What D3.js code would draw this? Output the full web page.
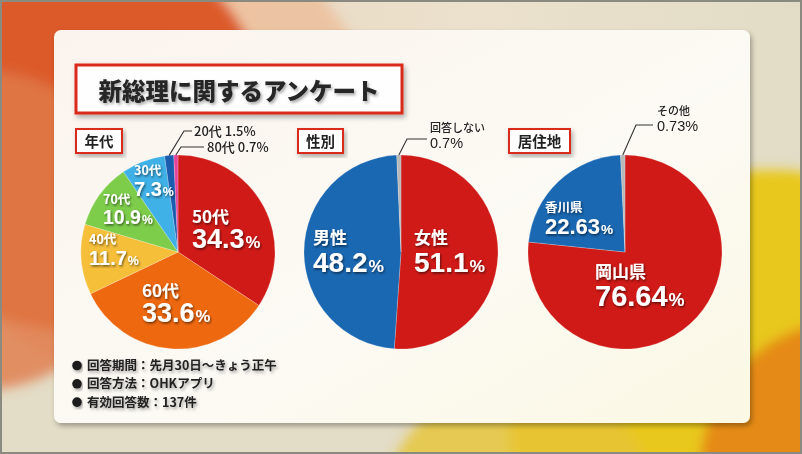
<!DOCTYPE html>
<html><head><meta charset="utf-8">
<script src="https://cdn.jsdelivr.net/npm/d3@7"></script>
<style>html,body{margin:0;padding:0;background:#fff;}svg{display:block;}</style>
</head><body>
<svg id="c" width="802" height="454"></svg>
<script>
// ---- data ----
const title = "新総理に関するアンケート";
const ageLabels = ["50代","60代","40代","70代","30代","20代","80代"];
const ageValues = [34.3, 33.6, 11.7, 10.9, 7.3, 1.5, 0.7];
const genderLabels = ["女性","男性","回答しない"];
const genderValues = [51.1, 48.2, 0.7];
const regionLabels = ["岡山県","香川県","その他"];
const regionValues = [76.64, 22.63, 0.73];
const panelTitles = ["年代","性別","居住地"];
const notes = ["回答期間：先月30日～きょう正午","回答方法：OHKアプリ","有効回答数：137件"];

const JP = "'Noto Sans CJK JP','Noto Sans',sans-serif";
const NUM = "'Liberation Sans','Noto Sans CJK JP',sans-serif";

const svg = d3.select("#c");
const defs = svg.append("defs");

// filters
const f1 = defs.append("filter").attr("id","tsh").attr("x","-20%").attr("y","-20%").attr("width","140%").attr("height","140%");
f1.append("feDropShadow").attr("dx",1).attr("dy",1.5).attr("stdDeviation",1.2).attr("flood-color","#000").attr("flood-opacity",0.55);
const f2 = defs.append("filter").attr("id","bsh").attr("x","-10%").attr("y","-10%").attr("width","120%").attr("height","130%");
f2.append("feDropShadow").attr("dx",2).attr("dy",3).attr("stdDeviation",2.5).attr("flood-color","#000").attr("flood-opacity",0.3);
const f3 = defs.append("filter").attr("id","dsh").attr("x","-10%").attr("y","-20%").attr("width","120%").attr("height","150%");
f3.append("feDropShadow").attr("dx",1.5).attr("dy",2).attr("stdDeviation",1.5).attr("flood-color","#000").attr("flood-opacity",0.35);
const blur = defs.append("filter").attr("id","blur").attr("x","-50%").attr("y","-50%").attr("width","200%").attr("height","200%");
blur.append("feGaussianBlur").attr("stdDeviation",6);

// card gradient
const cg = defs.append("linearGradient").attr("id","cardg").attr("x1",0).attr("y1",0).attr("x2",1).attr("y2",1);
cg.append("stop").attr("offset","0%").attr("stop-color","#fbf3ee");
cg.append("stop").attr("offset","55%").attr("stop-color","#fcfaf4");
cg.append("stop").attr("offset","100%").attr("stop-color","#fbf8e4");

// ---- background ----
svg.append("rect").attr("width",802).attr("height",454).attr("fill","#e3dcc6");
const bgTop = defs.append("linearGradient").attr("id","bgt").attr("x1",0).attr("y1",0).attr("x2",1).attr("y2",0);
bgTop.append("stop").attr("offset","0%").attr("stop-color","#e9d3c0");
bgTop.append("stop").attr("offset","60%").attr("stop-color","#ebe1cc");
bgTop.append("stop").attr("offset","100%").attr("stop-color","#e2dcc6");
svg.append("rect").attr("width",802).attr("height",260).attr("fill","url(#bgt)");
const bgG = svg.append("g").attr("filter","url(#blur)");
bgG.append("circle").attr("cx",150).attr("cy",150).attr("r",230).attr("fill","#efb48a").attr("opacity",0.6);
bgG.append("circle").attr("cx",70).attr("cy",130).attr("r",200).attr("fill","#dc5a2c");
bgG.append("circle").attr("cx",-20).attr("cy",230).attr("r",160).attr("fill","#e07a4a").attr("opacity",0.8);
bgG.append("circle").attr("cx",770).attr("cy",430).attr("r",260).attr("fill","#e8c81e");
bgG.append("circle").attr("cx",850).attr("cy",470).attr("r",150).attr("fill","#e58a18");
bgG.append("circle").attr("cx",520).attr("cy",520).attr("r",140).attr("fill","#e6c436").attr("opacity",0.8);

// frame border
svg.append("rect").attr("x",1).attr("y",1).attr("width",800).attr("height",452).attr("fill","none").attr("stroke","#8a8a80").attr("stroke-width",2);

// card
svg.append("rect").attr("x",54).attr("y",30).attr("width",696).attr("height",393).attr("rx",7)
  .attr("fill","url(#cardg)").attr("filter","url(#bsh)");

// title box
svg.append("rect").attr("x",76).attr("y",65).attr("width",326).attr("height",48)
  .attr("fill","#fefefe").attr("stroke","#d92b1c").attr("stroke-width",3).attr("filter","url(#bsh)");
svg.append("text").attr("x",239).attr("y",100).attr("text-anchor","middle")
  .attr("font-family",JP).attr("font-weight",900).attr("font-size",23.5).attr("fill","#262626")
  .attr("filter","url(#dsh)").text(title);

// ---- pies ----
const R = 97;
const cy = 252;
const pieGen = d3.pie().sort(null).value(d => d);
const arcGen = d3.arc().innerRadius(0).outerRadius(R);

function panelBox(x, w, label){
  svg.append("rect").attr("x",x).attr("y",129).attr("width",w).attr("height",24)
    .attr("fill","#fefefe").attr("stroke","#d92b1c").attr("stroke-width",2).attr("filter","url(#bsh)");
  svg.append("text").attr("x",x+w/2).attr("y",147).attr("text-anchor","middle")
    .attr("font-family",JP).attr("font-weight",700).attr("font-size",14.5).attr("fill","#222").text(label);
}

function drawPie(cx, values, colors){
  const g = svg.append("g").attr("transform",`translate(${cx},${cy})`);
  const arcs = pieGen(values);
  g.selectAll("path").data(arcs).join("path")
    .attr("d",arcGen).attr("fill",(d,i)=>colors[i])
    .attr("stroke","rgba(255,255,255,0.35)").attr("stroke-width",0.6);
  return arcs;
}

// two-line label (name + value) as one text element
function bigLabel(x, y1, gap, name, val, dec, s1, s2){
  const t = svg.append("text").attr("x",x).attr("y",y1).attr("fill","#fff").attr("filter","url(#tsh)")
    .attr("font-weight",700);
  t.append("tspan").attr("font-family",JP).attr("font-size",s1).text(name);
  t.append("tspan").attr("x",x).attr("dy",gap).attr("font-family",NUM).attr("font-size",s2).text(val.toFixed(dec));
  t.append("tspan").attr("font-family",NUM).attr("font-size",s2*0.62).attr("dx",1).text("%");
}

function leader(cx, arc, pts){
  const a = (arc.startAngle + arc.endAngle)/2;
  const p0 = [cx + R*Math.sin(a), cy - R*Math.cos(a)];
  svg.append("polyline").attr("points",[p0].concat(pts).map(p=>p.join(",")).join(" "))
    .attr("fill","none").attr("stroke","#333").attr("stroke-width",1.1);
}

function smallText(x, y, str, size, fam){
  svg.append("text").attr("x",x).attr("y",y).attr("font-family",fam||JP).attr("font-weight",500)
    .attr("font-size",size).attr("fill","#222").text(str);
}
function smallTwo(x, y, gap, name, valStr){
  const t = svg.append("text").attr("x",x).attr("y",y).attr("fill","#222").attr("font-weight",500);
  t.append("tspan").attr("font-family",JP).attr("font-size",11).text(name);
  t.append("tspan").attr("x",x).attr("dy",gap).attr("font-family",NUM).attr("font-size",14.5).text(valStr);
}

const cx1 = 178, cx2 = 401, cx3 = 625;

// pie 1 : 年代
panelBox(76, 46, panelTitles[0]);
const ageColors = ["#d01a17","#ee6810","#f6bf3a","#7dcd4b","#3fb1e7","#1a5cad","#e6449a"];
const a1 = drawPie(cx1, ageValues, ageColors);
bigLabel(192, 223, 25, ageLabels[0], ageValues[0], 1, 17, 27);
bigLabel(142, 297, 25, ageLabels[1], ageValues[1], 1, 17, 27);
bigLabel(89, 244, 21, ageLabels[2], ageValues[2], 1, 12.5, 20);
bigLabel(103, 204, 20, ageLabels[3], ageValues[3], 1, 12.5, 19.5);
bigLabel(134, 175, 21, ageLabels[4], ageValues[4], 1, 12.5, 20);
leader(cx1, a1[5], [[184,131],[192,131]]);
leader(cx1, a1[6], [[181,147],[204,147]]);
smallText(194, 136, ageLabels[5] + "  " + ageValues[5].toFixed(1) + "%", 13);
smallText(207, 152, ageLabels[6] + "  " + ageValues[6].toFixed(1) + "%", 13);

// pie 2 : 性別
panelBox(298, 45, panelTitles[1]);
const a2 = drawPie(cx2, genderValues, ["#d01a17","#1a68b2","#b8b8b8"]);
bigLabel(414, 244, 28, genderLabels[0], genderValues[0], 1, 17, 28);
bigLabel(313, 244, 28, genderLabels[1], genderValues[1], 1, 17, 28);
leader(cx2, a2[2], [[407,139],[427,139]]);
smallTwo(430, 132, 16, genderLabels[2], genderValues[2].toFixed(1) + "%");

// pie 3 : 居住地
panelBox(509, 61, panelTitles[2]);
const a3 = drawPie(cx3, regionValues, ["#d01a17","#1a68b2","#b8b8b8"]);
bigLabel(595, 278, 28, regionLabels[0], regionValues[0], 2, 17, 29);
bigLabel(545, 212, 22, regionLabels[1], regionValues[1], 2, 12.5, 22);
leader(cx3, a3[2], [[636,125],[653,125]]);
smallTwo(657, 115, 16, regionLabels[2], regionValues[2].toFixed(2) + "%");

// notes
notes.forEach((n,i) => {
  const y = 370 + i*18.3;
  svg.append("circle").attr("cx",77).attr("cy",y-4.5).attr("r",4.8).attr("fill","#1e1e1e").attr("filter","url(#dsh)");
  svg.append("text").attr("x",87).attr("y",y).attr("font-family",JP).attr("font-weight",700)
    .attr("font-size",12.5).attr("fill","#222").attr("filter","url(#dsh)").text(n);
});
</script>
</body></html>
